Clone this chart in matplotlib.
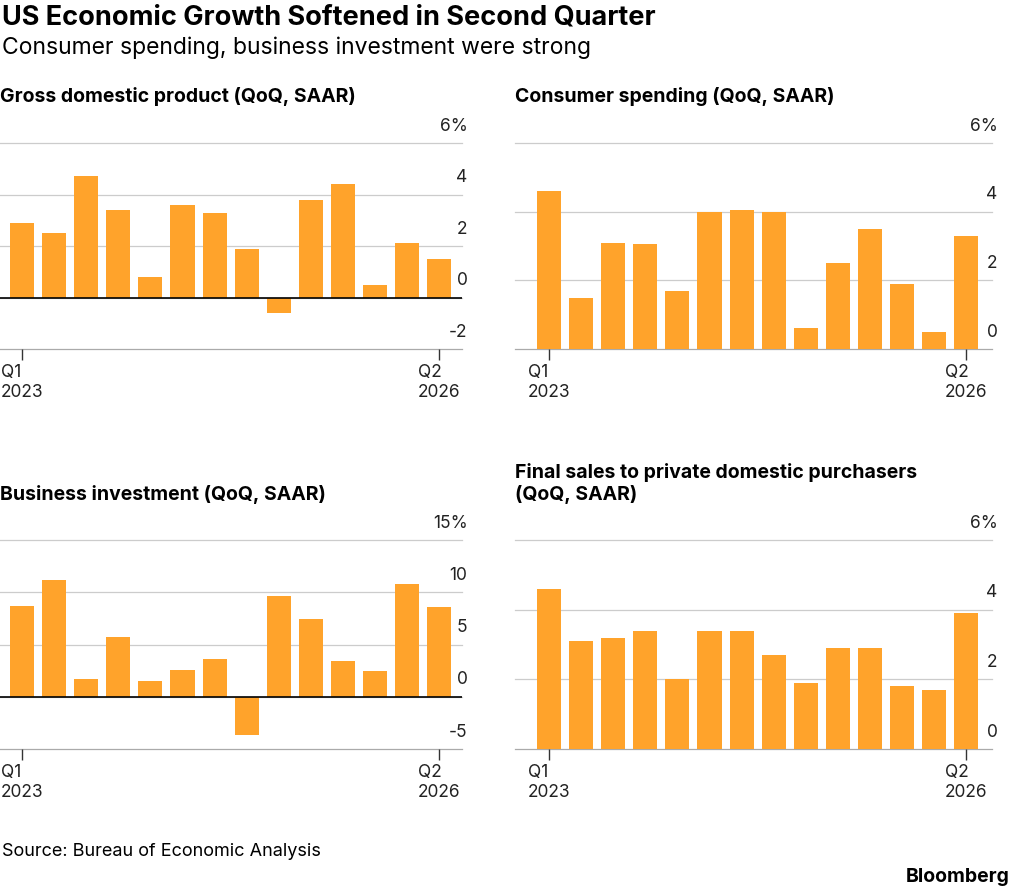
import matplotlib.pyplot as plt
import matplotlib.transforms as mtrans

quarters = list(range(14))
gdp = [2.9, 2.5, 4.7, 3.4, 0.8, 3.6, 3.3, 1.9, -0.6, 3.8, 4.4, 0.5, 2.1, 1.5]
consumer = [4.6, 1.5, 3.1, 3.05, 1.7, 4.0, 4.05, 4.0, 0.6, 2.5, 3.5, 1.9, 0.5, 3.3]
business = [8.7, 11.2, 1.7, 5.7, 1.5, 2.6, 3.6, -3.7, 9.6, 7.4, 3.4, 2.5, 10.8, 8.6]
final_sales = [4.6, 3.1, 3.2, 3.4, 2.0, 3.4, 3.4, 2.7, 1.9, 2.9, 2.9, 1.8, 1.7, 3.9]

W, H = 1024, 893
fig = plt.figure(figsize=(W / 100, H / 100), dpi=100)
plt.rcParams['font.family'] = ['Inter', 'DejaVu Sans']
BAR = '#FFA32B'


def panel(x0, x1, ytop, ybot, first_px, values, yticks, title, title_y):
    ax = fig.add_axes([x0 / W, 1 - ybot / H, (x1 - x0) / W, (ybot - ytop) / H])
    pitch = 32.1
    ax.set_xlim(-(first_px - x0) / pitch, (x1 - first_px) / pitch)
    ax.set_ylim(yticks[0], yticks[-1])
    off = mtrans.offset_copy(ax.get_yaxis_transform(), fig=fig, x=4, y=6, units='points')
    for i, t in enumerate(yticks):
        col = '#aaaaaa' if i == 0 else '#cccccc'
        ax.axhline(t, color=col, lw=0.9, zorder=0, clip_on=False)
        lab = f'{t}%' if i == len(yticks) - 1 else str(t)
        ax.text(1.0, t, lab, transform=off, ha='right',
                va='bottom', fontsize=12.5, color='#222222')
    ax.bar(quarters, values, width=0.75, color=BAR, zorder=2)
    if yticks[0] < 0:
        ax.axhline(0, color='black', lw=1.2, zorder=3)
    for s in ax.spines.values():
        s.set_visible(False)
    ax.set_yticks([])
    ax.set_xticks([0, 13])
    ax.set_xticklabels(['Q1\n2023', 'Q2\n2026'], fontsize=12.5, color='#222222')
    ax.tick_params(axis='x', length=8, width=1, color='#333333', pad=3)
    for l in ax.get_xticklabels():
        l.set_horizontalalignment('center')
        l.set_multialignment('left')
    fig.text(x0 / W, 1 - title_y / H, title, fontsize=14, fontweight='bold',
             va='center', ha='left')
    return ax


panel(0, 462, 143, 349, 22, gdp, [-2, 0, 2, 4, 6], 'Gross domestic product (QoQ, SAAR)', 97)
panel(515, 992, 143, 349, 549, consumer, [0, 2, 4, 6], 'Consumer spending (QoQ, SAAR)', 97)
panel(0, 462, 540, 749, 22, business, [-5, 0, 5, 10, 15], 'Business investment (QoQ, SAAR)', 494)
panel(515, 992, 540, 749, 549, final_sales, [0, 2, 4, 6],
      'Final sales to private domestic purchasers\n(QoQ, SAAR)', 483)

fig.text(2 / W, 1 - 18 / H, 'US Economic Growth Softened in Second Quarter',
         fontsize=19.5, fontweight='bold', va='center')
fig.text(2 / W, 1 - 48 / H, 'Consumer spending, business investment were strong',
         fontsize=16.5, va='center')
fig.text(2 / W, 1 - 851 / H, 'Source: Bureau of Economic Analysis', fontsize=13, va='center')
fig.text(1010 / W, 1 - 877 / H, 'Bloomberg', fontsize=14, fontweight='bold',
         va='center', ha='right')

fig.savefig('out.png', dpi=100)
